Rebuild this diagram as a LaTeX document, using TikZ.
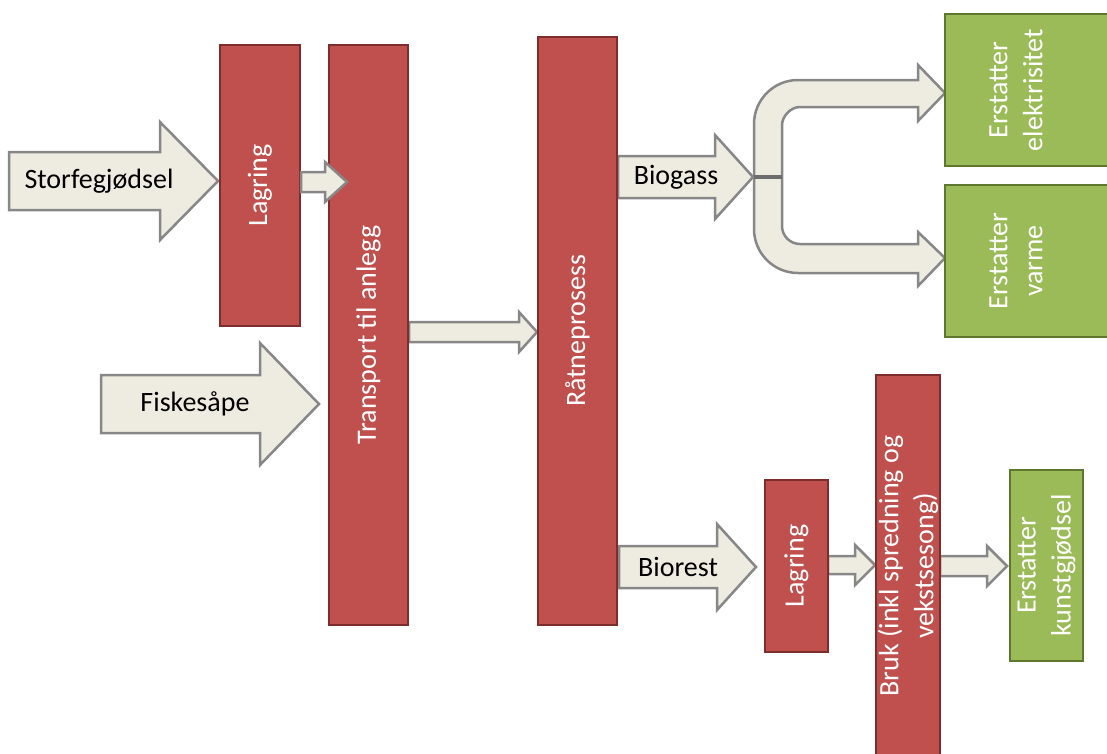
\documentclass[tikz,border=0pt]{standalone}
\usepackage{fontspec}
\setmainfont{Carlito}
\definecolor{boxred}{RGB}{192,80,77}
\definecolor{boxredline}{RGB}{125,45,43}
\definecolor{boxgreen}{RGB}{155,187,89}
\definecolor{boxgreenline}{RGB}{95,118,46}
\definecolor{arrfill}{RGB}{238,236,225}
\definecolor{arrline}{RGB}{135,135,135}
\tikzset{
  redbox/.style={draw=boxredline, fill=boxred, line width=2.5pt, inner sep=0pt},
  greenbox/.style={draw=boxgreenline, fill=boxgreen, line width=2.5pt, inner sep=0pt},
  boxtxt/.style={rotate=90, text=white, align=center, inner sep=0pt,
    font=\fontsize{28}{35}\selectfont},
  arrtxt/.style={text=black, inner sep=0pt, font=\fontsize{28}{34}\selectfont},
  blockarr/.style={draw=arrline, fill=arrfill, line width=2.5pt, line join=miter}
}
% block arrow: start x, head base x, tip x, centre y, half shaft, half head
\newcommand{\blockarrow}[6]{%
  \draw[blockarr] ({#1},{#4-#5}) -- ({#2},{#4-#5}) -- ({#2},{#4-#6}) -- ({#3},{#4})
    -- ({#2},{#4+#6}) -- ({#2},{#4+#5}) -- ({#1},{#4+#5}) -- cycle;}
\begin{document}
\begin{tikzpicture}[x=1pt, y=-1pt]
\useasboundingbox (0,0) rectangle (1107,753);

% flow arrows lying under the boxes
\blockarrow{9}{160}{218}{181}{29}{59}
\blockarrow{101}{260}{319}{404}{29}{61}
\blockarrow{409}{519}{537}{332}{10}{20}
\blockarrow{618}{715}{753}{177}{21}{42}
\blockarrow{619}{717}{756}{567}{21}{43}
\blockarrow{828}{855}{875}{565}{9}{20}
\blockarrow{940}{987}{1007}{566}{10}{20}

% split arrow towards electricity and heat
\draw[blockarr] (754,177) -- (754,124)
  .. controls (754,99.7) and (773.7,80) .. (798,80)
  -- (918,80) -- (918,65) -- (945,93) -- (918,121) -- (918,107) -- (800,107)
  .. controls (790.1,107) and (782,116.9) .. (782,125)
  -- (782,226)
  .. controls (782,235.9) and (790.1,244) .. (800,244)
  -- (918,244) -- (918,232) -- (945,258) -- (918,286) -- (918,273) -- (798,273)
  .. controls (773.7,273) and (754,253.3) .. (754,229) -- cycle;
\draw[arrline!80!black, line width=4pt] (754,177) -- (782,177);

% process boxes
\node[redbox, minimum width=80pt, minimum height=281pt] (lag1) at (260,185.5) {};
\node[redbox, minimum width=79pt, minimum height=580pt] (trans) at (368.5,335) {};
\node[redbox, minimum width=79pt, minimum height=588pt] (rat) at (577.5,331) {};
\node[redbox, minimum width=63pt, minimum height=172pt] (lag2) at (796.5,566) {};
\node[redbox, minimum width=64pt, minimum height=382pt] (bruk) at (908,566) {};
\node[greenbox, minimum width=180pt, minimum height=152pt] (el) at (1035,90) {};
\node[greenbox, minimum width=180pt, minimum height=152pt] (var) at (1035,261) {};
\node[greenbox, minimum width=73pt, minimum height=191pt] (kun) at (1046.5,565.5) {};

% small arrow from storage onto transport
\blockarrow{301}{325}{347}{182}{10}{20}

% box labels
\node[boxtxt] (lag1t) at (lag1) {Lagring};
\node[boxtxt] (transt) at (trans) {Transport til anlegg};
\node[boxtxt] (ratt) at (rat) {Råtneprosess};
\node[boxtxt] (lag2t) at (lag2) {Lagring};
\node[boxtxt] (brukt) at (bruk) {Bruk (inkl spredning og\\vekstsesong)};
\node[boxtxt] (elt) at (1016,90) {Erstatter\\elektrisitet};
\node[boxtxt] (vart) at (1016,261) {Erstatter\\varme};
\node[boxtxt] (kunt) at (kun) {Erstatter\\kunstgjødsel};

% arrow labels
\node[arrtxt] (storf) at (99,181) {Storfegjødsel};
\node[arrtxt] (fisk) at (195,404) {Fiskesåpe};
\node[arrtxt] (biog) at (676,177) {Biogass};
\node[arrtxt] (bior) at (678,567) {Biorest};
\end{tikzpicture}
\end{document}
